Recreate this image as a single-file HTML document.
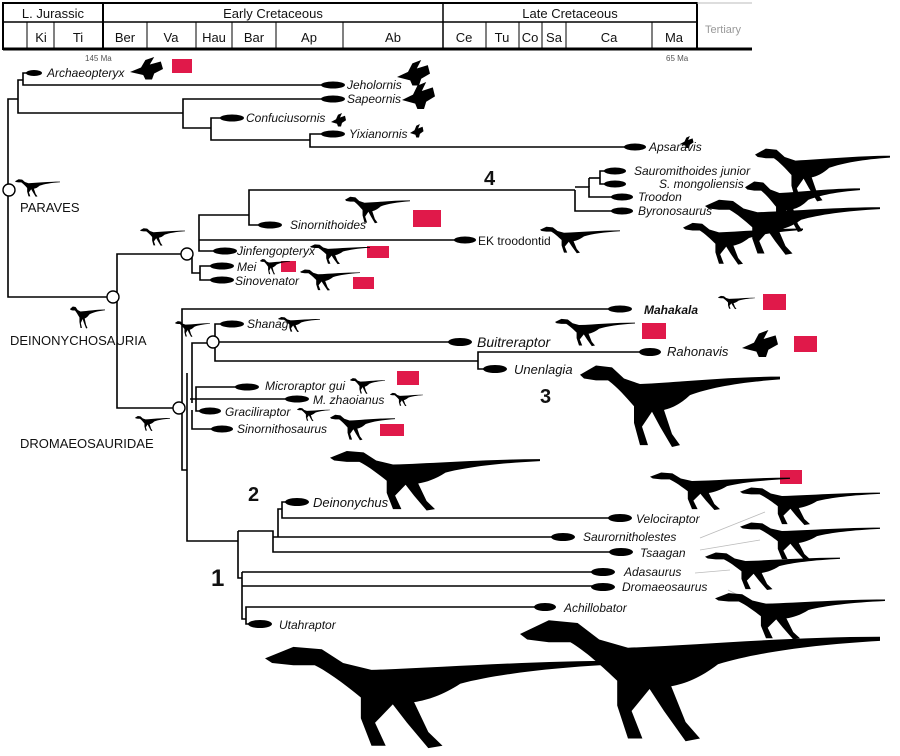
<!DOCTYPE html>
<html><head><meta charset="utf-8"><style>
html,body{margin:0;padding:0;background:#fff;}
svg{display:block;}
text{font-family:"Liberation Sans",sans-serif;}
.l{font-style:italic;font-size:12px;fill:#111;}
.c{font-size:13px;fill:#111;}
.h{font-size:13px;fill:#111;text-anchor:middle;}
.n{font-size:20px;font-weight:bold;fill:#111;}
</style></head><body>
<svg width="900" height="756" viewBox="0 0 900 756" xmlns="http://www.w3.org/2000/svg">
<defs>
<path id="d" d="M0,8 L8,3 L16,4 L22,10 L30,13 C50,12 75,9 100,9 L100,10.5 C80,12 65,15 55,19 C50,24 46,26 42,27 L46,40 L50,46 L46,47 L40,36 L36,28 L31,36 L34,46 L30,46 L27,34 L27,25 C23,20 18,14 14,11 L8,11 L2,10 Z"/>
<path id="b" d="M0,20 L10,14 L14,4 L22,0 L18,10 L28,6 L30,16 L22,22 L20,30 L14,30 L12,24 Z"/>
</defs>
<!-- header -->
<g fill="none" stroke="#000">
<rect x="3" y="3" width="694" height="46" stroke-width="2"/>
<line x1="3" y1="22" x2="697" y2="22" stroke-width="1.5"/>
<line x1="3" y1="49" x2="752" y2="49" stroke-width="3"/>
<line x1="697" y1="3" x2="752" y2="3" stroke="#bbb" stroke-width="1"/>
<line x1="103" y1="3" x2="103" y2="49" stroke-width="2"/>
<line x1="443" y1="3" x2="443" y2="49" stroke-width="1.5"/>
<g stroke-width="1">
<line x1="27" y1="22" x2="27" y2="49"/><line x1="54" y1="22" x2="54" y2="49"/>
<line x1="147" y1="22" x2="147" y2="49"/><line x1="196" y1="22" x2="196" y2="49"/>
<line x1="232" y1="22" x2="232" y2="49"/><line x1="276" y1="22" x2="276" y2="49"/>
<line x1="343" y1="22" x2="343" y2="49"/><line x1="486" y1="22" x2="486" y2="49"/>
<line x1="519" y1="22" x2="519" y2="49"/><line x1="542" y1="22" x2="542" y2="49"/>
<line x1="566" y1="22" x2="566" y2="49"/><line x1="652" y1="22" x2="652" y2="49"/>
</g></g>
<text class="h" x="53" y="18">L. Jurassic</text>
<text class="h" x="273" y="18">Early Cretaceous</text>
<text class="h" x="570" y="18">Late Cretaceous</text>
<text class="h" x="41" y="42">Ki</text><text class="h" x="78" y="42">Ti</text>
<text class="h" x="125" y="42">Ber</text><text class="h" x="171" y="42">Va</text>
<text class="h" x="214" y="42">Hau</text><text class="h" x="254" y="42">Bar</text>
<text class="h" x="309" y="42">Ap</text><text class="h" x="393" y="42">Ab</text>
<text class="h" x="464" y="42">Ce</text><text class="h" x="502" y="42">Tu</text>
<text class="h" x="530" y="42">Co</text><text class="h" x="554" y="42">Sa</text>
<text class="h" x="609" y="42">Ca</text><text class="h" x="674" y="42">Ma</text>
<text x="705" y="33" style="font-size:11px;fill:#999">Tertiary</text>
<text x="85" y="61" style="font-size:8px;fill:#555">145 Ma</text>
<text x="666" y="61" style="font-size:8px;fill:#555">65 Ma</text>

<!-- tree -->
<g fill="none" stroke="#000" stroke-width="1.6">
<polyline points="18,99 8,99 8,297 113,297"/>
<polyline points="23,80 18,80 18,113 183,113"/>
<polyline points="34,73 23,73 23,85 333,85"/>
<polyline points="333,99 183,99 183,128 211,128"/>
<polyline points="232,118 211,118 211,140 310,140"/>
<polyline points="333,134 310,134 310,147 635,147"/>
<polyline points="186,254 117,254 117,408 173,408"/>
<polyline points="575,190 249,190 249,225 270,225"/>
<polyline points="249,215 199,215 199,251 214,251"/>
<line x1="199" y1="240" x2="465" y2="240"/>
<polyline points="192,254 192,273 200,273"/>
<polyline points="214,266 200,266 200,280 214,280"/>
<polyline points="575,190 575,211 622,211"/>
<polyline points="575,187 589,187 589,197 615,197"/>
<polyline points="615,171 600,171 600,184 615,184"/>
<line x1="589" y1="187" x2="589" y2="178"/>
<line x1="589" y1="178" x2="600" y2="178"/>
<polyline points="613,309 182,309 182,470 187,470"/>
<polyline points="187,373 187,541 238,541"/>
<polyline points="192,403 192,343 208,343"/>
<polyline points="230,324 215,324 215,337"/>
<line x1="218" y1="342" x2="460" y2="342"/>
<polyline points="215,347 215,361 478,361"/>
<polyline points="650,352 478,352 478,369 495,369"/>
<polyline points="247,387 196,387 196,411 210,411"/>
<line x1="190" y1="399" x2="297" y2="399"/>
<polyline points="192,410 192,429 222,429"/>
<polyline points="238,531 238,578 242,578"/>
<polyline points="238,531 273,531 273,552 618,552"/>
<polyline points="273,537 562,537"/>
<polyline points="278,537 278,509 282,509"/>
<polyline points="297,502 282,502 282,518 612,518"/>
<polyline points="242,572 600,572"/>
<polyline points="242,572 242,619 246,619"/>
<line x1="242" y1="586" x2="602" y2="586"/>
<polyline points="545,607 246,607 246,624 260,624"/>
</g>
<g stroke="#bbb" stroke-width="0.8">
<line x1="700" y1="538" x2="765" y2="512"/><line x1="700" y1="550" x2="760" y2="540"/>
<line x1="695" y1="573" x2="730" y2="570"/><line x1="728" y1="590" x2="740" y2="596"/>
</g>
<!-- nodes -->
<g fill="#fff" stroke="#000" stroke-width="1.4">
<circle cx="9" cy="190" r="6"/><circle cx="113" cy="297" r="6"/>
<circle cx="187" cy="254" r="6"/><circle cx="179" cy="408" r="6"/>
<circle cx="213" cy="342" r="6"/>
</g>
<!-- tip ellipses -->
<g fill="#000">
<ellipse cx="34" cy="73" rx="8" ry="3"/><ellipse cx="333" cy="85" rx="12" ry="3.5"/>
<ellipse cx="333" cy="99" rx="12" ry="3.5"/><ellipse cx="232" cy="118" rx="12" ry="3.5"/>
<ellipse cx="333" cy="134" rx="12" ry="3.5"/><ellipse cx="635" cy="147" rx="11" ry="3.5"/>
<ellipse cx="615" cy="171" rx="11" ry="3.5"/><ellipse cx="615" cy="184" rx="11" ry="3.5"/>
<ellipse cx="622" cy="197" rx="11" ry="3.5"/><ellipse cx="622" cy="211" rx="11" ry="3.5"/>
<ellipse cx="270" cy="225" rx="12" ry="3.5"/><ellipse cx="465" cy="240" rx="11" ry="3.5"/>
<ellipse cx="225" cy="251" rx="12" ry="3.5"/><ellipse cx="222" cy="266" rx="12" ry="3.5"/>
<ellipse cx="222" cy="280" rx="12" ry="3.5"/><ellipse cx="620" cy="309" rx="12" ry="3.5"/>
<ellipse cx="232" cy="324" rx="12" ry="3.5"/><ellipse cx="460" cy="342" rx="12" ry="4"/>
<ellipse cx="650" cy="352" rx="11" ry="4"/><ellipse cx="495" cy="369" rx="12" ry="4"/>
<ellipse cx="247" cy="387" rx="12" ry="3.5"/><ellipse cx="297" cy="399" rx="12" ry="3.5"/>
<ellipse cx="210" cy="411" rx="11" ry="3.5"/><ellipse cx="222" cy="429" rx="11" ry="3.5"/>
<ellipse cx="297" cy="502" rx="12" ry="4"/><ellipse cx="620" cy="518" rx="12" ry="4"/>
<ellipse cx="563" cy="537" rx="12" ry="4"/><ellipse cx="621" cy="552" rx="12" ry="4"/>
<ellipse cx="603" cy="572" rx="12" ry="4"/><ellipse cx="603" cy="587" rx="12" ry="4"/>
<ellipse cx="545" cy="607" rx="11" ry="4"/><ellipse cx="260" cy="624" rx="12" ry="4"/>
</g>
<!-- red boxes -->
<g fill="#e0194a">
<rect x="172" y="59" width="20" height="14"/><rect x="413" y="210" width="28" height="17"/>
<rect x="367" y="246" width="22" height="12"/><rect x="281" y="261" width="15" height="11"/>
<rect x="353" y="277" width="21" height="12"/><rect x="763" y="294" width="23" height="16"/>
<rect x="642" y="323" width="24" height="16"/><rect x="794" y="336" width="23" height="16"/>
<rect x="397" y="371" width="22" height="14"/><rect x="380" y="424" width="24" height="12"/>
<rect x="780" y="470" width="22" height="14"/>
</g>
<!-- silhouettes -->
<g fill="#000">
<use href="#d" transform="translate(265,640) scale(3.55,2.3)"/>
<use href="#d" transform="translate(520,612) scale(3.6,2.75)"/>
<use href="#d" transform="translate(580,360) scale(2,1.85)"/>
<use href="#d" transform="translate(330,447) scale(2.1,1.35)"/>
<use href="#d" transform="translate(755,145) scale(1.35,1.2)"/>
<use href="#d" transform="translate(745,178) scale(1.15,1.15)"/>
<use href="#d" transform="translate(705,196) scale(1.75,1.25)"/>
<use href="#d" transform="translate(683,220) scale(1.2,0.95)"/>
<use href="#d" transform="translate(650,470) scale(1.4,0.85)"/>
<use href="#d" transform="translate(740,485) scale(1.4,0.85)"/>
<use href="#d" transform="translate(740,520) scale(1.4,0.85)"/>
<use href="#d" transform="translate(705,550) scale(1.35,0.85)"/>
<use href="#d" transform="translate(715,590) scale(1.7,1.05)"/>
<use href="#d" transform="translate(345,195) scale(0.65,0.6)"/>
<use href="#d" transform="translate(540,225) scale(0.8,0.6)"/>
<use href="#d" transform="translate(310,243) scale(0.6,0.45)"/>
<use href="#d" transform="translate(260,258) scale(0.3,0.35)"/>
<use href="#d" transform="translate(300,268) scale(0.6,0.48)"/>
<use href="#d" transform="translate(718,295) scale(0.37,0.3)"/>
<use href="#d" transform="translate(278,316) scale(0.42,0.34)"/>
<use href="#d" transform="translate(555,317) scale(0.8,0.62)"/>
<use href="#d" transform="translate(350,377) scale(0.35,0.36)"/>
<use href="#d" transform="translate(390,392) scale(0.33,0.3)"/>
<use href="#d" transform="translate(297,407) scale(0.33,0.3)"/>
<use href="#d" transform="translate(330,413) scale(0.65,0.58)"/>
<use href="#d" transform="translate(15,178) scale(0.45,0.4)"/>
<use href="#d" transform="translate(140,227) scale(0.45,0.4)"/>
<use href="#d" transform="translate(70,305) scale(0.35,0.5)"/>
<use href="#d" transform="translate(175,320) scale(0.35,0.36)"/>
<use href="#d" transform="translate(135,415) scale(0.35,0.34)"/>
<use href="#b" transform="translate(130,57) scale(1.1,0.75)"/>
<use href="#b" transform="translate(397,60) scale(1.1,0.85)"/>
<use href="#b" transform="translate(402,82) scale(1.1,0.9)"/>
<use href="#b" transform="translate(331,113) scale(0.5,0.45)"/>
<use href="#b" transform="translate(410,124) scale(0.45,0.45)"/>
<use href="#b" transform="translate(680,136) scale(0.45,0.4)"/>
<use href="#b" transform="translate(742,330) scale(1.2,0.9)"/>
</g>
<!-- labels -->
<text class="l" x="47" y="77">Archaeopteryx</text>
<text class="l" x="347" y="89">Jeholornis</text>
<text class="l" x="347" y="103">Sapeornis</text>
<text class="l" x="246" y="122">Confuciusornis</text>
<text class="l" x="349" y="138">Yixianornis</text>
<text class="l" x="649" y="151">Apsaravis</text>
<text class="l" x="634" y="175">Sauromithoides junior</text>
<text class="l" x="659" y="188">S. mongoliensis</text>
<text class="l" x="638" y="201">Troodon</text>
<text class="l" x="638" y="215">Byronosaurus</text>
<text class="l" x="290" y="229">Sinornithoides</text>
<text x="478" y="245" style="font-size:12px;fill:#111">EK troodontid</text>
<text class="l" x="237" y="255">Jinfengopteryx</text>
<text class="l" x="237" y="271">Mei</text>
<text class="l" x="235" y="285">Sinovenator</text>
<text class="l" x="644" y="314" style="font-weight:bold">Mahakala</text>
<text class="l" x="247" y="328">Shanag</text>
<text class="l" x="477" y="347" style="font-size:14px">Buitreraptor</text>
<text class="l" x="667" y="356" style="font-size:13px">Rahonavis</text>
<text class="l" x="514" y="374" style="font-size:13px">Unenlagia</text>
<text class="l" x="265" y="390">Microraptor gui</text>
<text class="l" x="313" y="404">M. zhaoianus</text>
<text class="l" x="225" y="416">Graciliraptor</text>
<text class="l" x="237" y="433">Sinornithosaurus</text>
<text class="l" x="313" y="507" style="font-size:13px">Deinonychus</text>
<text class="l" x="636" y="523">Velociraptor</text>
<text class="l" x="583" y="541">Saurornitholestes</text>
<text class="l" x="640" y="557">Tsaagan</text>
<text class="l" x="624" y="576">Adasaurus</text>
<text class="l" x="622" y="591">Dromaeosaurus</text>
<text class="l" x="564" y="612">Achillobator</text>
<text class="l" x="279" y="629">Utahraptor</text>
<text class="c" x="20" y="212">PARAVES</text>
<text class="c" x="10" y="345">DEINONYCHOSAURIA</text>
<text class="c" x="20" y="448">DROMAEOSAURIDAE</text>
<text class="n" x="484" y="185">4</text>
<text class="n" x="540" y="403">3</text>
<text class="n" x="248" y="501">2</text>
<text class="n" x="211" y="586" style="font-size:24px">1</text>
</svg>
</body></html>
